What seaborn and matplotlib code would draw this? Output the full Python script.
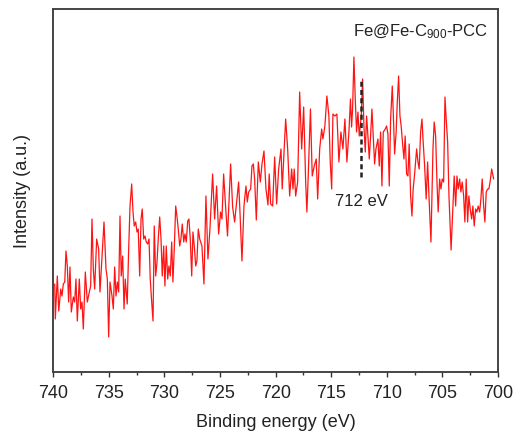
import numpy as np
import pandas as pd
import matplotlib
matplotlib.use("Agg")
import matplotlib.pyplot as plt
import seaborn as sns

# ---- data (binding energy in eV, intensity in a.u.) ----
energy_1 = [739.87, 739.82, 739.64, 739.51, 739.33, 739.22, 739.10, 738.97, 738.86, 738.74,
            738.62, 738.50, 738.38, 738.20, 738.08, 737.96, 737.84, 737.66, 737.54, 737.42,
            737.30, 737.12, 736.94, 736.76, 736.64, 736.52, 736.40, 736.28, 736.10, 735.92,
            735.80, 735.62, 735.44, 735.26, 735.14, 735.02, 734.90, 734.72, 734.60, 734.48,
            734.36, 734.24, 734.12, 734.00, 733.89, 733.76, 733.64, 733.53, 733.35, 733.22,
            733.10, 732.95]
counts_1 = [88, 53, 96, 61, 83, 76, 88, 90, 121, 106,
            70, 105, 60, 75, 70, 93, 51, 93, 63, 70,
            43, 100, 70, 80, 86, 153, 103, 83, 133, 123,
            80, 116, 150, 103, 93, 35, 90, 76, 63, 105,
            76, 90, 80, 156, 96, 116, 63, 93, 68, 123,
            166, 188]

energy_2 = [732.83, 732.72, 732.59, 732.47, 732.36, 732.23, 732.11, 732.00, 731.87, 731.75,
            731.64, 731.51, 731.39, 731.28, 731.15, 731.03, 730.92, 730.79, 730.67, 730.56,
            730.43, 730.31, 730.20, 730.07, 729.96, 729.84, 729.71, 729.60, 729.48, 729.35,
            729.24, 729.12, 728.99, 728.88, 728.76, 728.63, 728.52, 728.40, 728.27, 728.16,
            728.04, 727.91, 727.80, 727.68, 727.55, 727.44, 727.32, 727.19, 727.08, 726.96,
            726.83]
counts_2 = [160, 146, 150, 140, 143, 96, 153, 163, 133, 136,
            130, 128, 133, 93, 70, 51, 146, 96, 110, 133,
            155, 133, 96, 126, 86, 126, 93, 106, 96, 130,
            90, 123, 166, 156, 143, 126, 133, 148, 130, 138,
            130, 151, 153, 133, 96, 140, 126, 106, 111, 143,
            133]

energy_3 = [726.63, 726.45, 726.27, 726.09, 725.91, 725.67, 725.49, 725.31, 725.13, 724.95,
            724.83, 724.68, 724.50, 724.33, 724.05, 723.87, 723.69, 723.51, 723.33, 723.21,
            723.03, 722.85, 722.67, 722.55, 722.43, 722.25, 722.13, 722.01, 721.89, 721.74,
            721.56, 721.38, 721.23, 721.05, 720.87, 720.69, 720.58, 720.45, 720.27, 720.09,
            719.91, 719.73]
counts_3 = [126, 88, 176, 113, 143, 198, 153, 186, 138, 160,
            153, 198, 165, 136, 208, 165, 150, 170, 190, 160,
            111, 166, 186, 170, 180, 183, 206, 208, 193, 152,
            210, 190, 208, 221, 183, 167, 198, 168, 166, 215,
            168, 203]

energy_4 = [719.52, 719.41, 719.28, 719.10, 718.92, 718.74, 718.56, 718.44, 718.33, 718.20,
            718.02, 717.84, 717.66, 717.48, 717.30, 717.19, 717.07, 716.87, 716.71, 716.53,
            716.35, 716.22, 716.04, 715.86, 715.75, 715.57, 715.39, 715.21, 715.09, 714.96,
            714.85, 714.67, 714.49, 714.31, 714.13, 713.95, 713.77, 713.59, 713.41, 713.27,
            713.17, 713.08, 712.96]
counts_4 = [223, 183, 213, 253, 223, 176, 203, 183, 203, 176,
            190, 280, 223, 265, 190, 160, 196, 263, 196, 206,
            213, 173, 223, 243, 233, 246, 276, 256, 210, 183,
            258, 256, 258, 210, 240, 223, 253, 210, 240, 273,
            245, 263, 315]

energy_5 = [712.84, 712.72, 712.60, 712.48, 712.30, 712.18, 712.06, 711.94, 711.82, 711.70,
            711.58, 711.46, 711.34, 711.22, 711.10, 710.98, 710.80, 710.68, 710.56, 710.44,
            710.32, 710.14, 710.02, 709.90, 709.78, 709.66, 709.51, 709.41, 709.30, 709.16,
            709.06, 708.94, 708.82, 708.71, 708.58, 708.46, 708.35, 708.22, 708.10, 707.99,
            707.86, 707.74, 707.63, 707.50, 707.32, 707.20, 707.09, 706.96, 706.84, 706.73,
            706.60, 706.46, 706.33, 706.21]
counts_5 = [273, 240, 260, 236, 256, 293, 246, 220, 256, 236,
            213, 236, 263, 236, 208, 223, 233, 206, 240, 186,
            240, 243, 246, 238, 186, 253, 286, 256, 218, 240,
            270, 296, 256, 246, 228, 213, 236, 198, 196, 228,
            176, 156, 183, 198, 223, 210, 203, 240, 253, 230,
            206, 173, 210, 176]

energy_6 = [706.03, 705.85, 705.74, 705.61, 705.49, 705.38,
            705.25, 705.13, 705.02, 704.89, 704.77, 704.66, 704.53, 704.41, 704.22, 704.06,
            703.94, 703.81, 703.69, 703.58, 703.45, 703.34, 703.22, 703.09, 702.98, 702.86,
            702.73, 702.62, 702.50, 702.37, 702.26, 702.14, 702.01, 701.90, 701.78, 701.65,
            701.54, 701.42, 701.29, 701.18, 701.06, 700.93, 700.82, 700.70, 700.57, 700.39]
counts_6 = [130, 223, 250, 236, 190, 160,
            193, 183, 193, 190, 275, 253, 230, 176, 122, 163,
            196, 166, 196, 183, 193, 180, 190, 176, 150, 193,
            150, 176, 163, 153, 166, 146, 163, 160, 166, 160,
            173, 193, 166, 150, 180, 183, 183, 191, 203, 193]

sample_label = "Fe@Fe-C$_{900}$-PCC"
peak_energy = 712.3
peak_label = "712 eV"
peak_top, peak_bottom = 294, 195
x_ticks = [740, 735, 730, 725, 720, 715, 710, 705, 700]

df = pd.DataFrame({
    "energy": energy_1 + energy_2 + energy_3 + energy_4 + energy_5 + energy_6,
    "intensity": counts_1 + counts_2 + counts_3 + counts_4 + counts_5 + counts_6,
})

sns.set_style("white")
plt.rcParams["font.family"] = ["Liberation Sans", "DejaVu Sans"]
plt.rcParams["mathtext.default"] = "regular"

fig = plt.figure(figsize=(5.17, 4.35), dpi=100)
ax = fig.add_axes([53.3 / 517, 62 / 435, 444.7 / 517, 363 / 435])

sns.lineplot(data=df, x="energy", y="intensity", ax=ax, color="#ff1414",
             linewidth=0.9, estimator=None, sort=False)

ax.vlines(peak_energy, peak_bottom, peak_top, colors="#222222", linestyles=(0, (2.0, 1.3)),
          linewidth=1.8)
ax.text(peak_energy, peak_bottom - 24, peak_label, ha="center", va="center",
        fontsize=12, color="#222222")
ax.text(0.978, 0.939, sample_label, transform=ax.transAxes, ha="right", va="center",
        fontsize=12, color="#222222")

ax.set_xlim(740, 700)
ax.set_ylim(0, 363)
ax.set_xticks(x_ticks)
ax.set_xticks(np.arange(737.5, 700, -5), minor=True)
ax.set_yticks([])
ax.tick_params(axis="x", which="major", direction="out", length=3.5, width=1.0,
               labelsize=13, colors="#333333", labelcolor="#222222", pad=5, bottom=True)
ax.tick_params(axis="x", which="minor", direction="out", length=2, width=1.0,
               colors="#333333", bottom=True)
for s in ax.spines.values():
    s.set_color("#444444")
    s.set_linewidth(1.4)

ax.set_xlabel("Binding energy (eV)", fontsize=13, color="#222222", labelpad=9)
ax.set_ylabel("Intensity (a.u.)", fontsize=13, color="#222222", labelpad=16)

fig.savefig("out.png", dpi=100)
